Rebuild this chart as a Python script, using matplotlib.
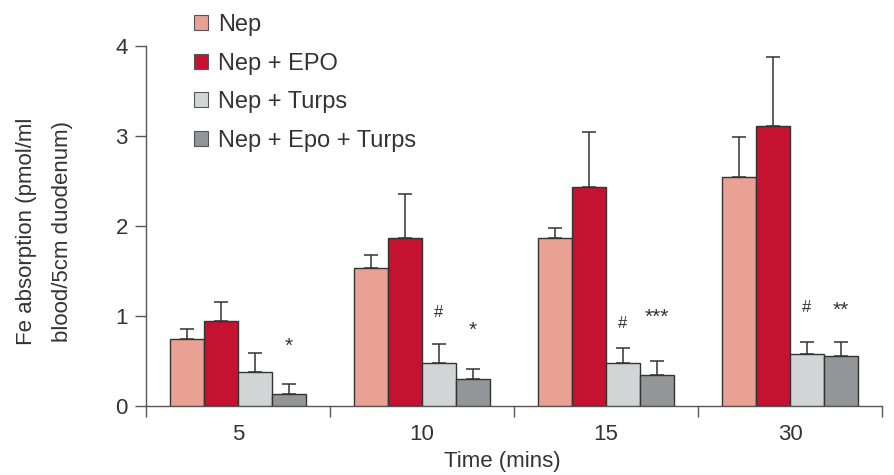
import matplotlib.pyplot as plt
import numpy as np
from matplotlib.patches import Rectangle

plt.rcParams['font.family'] = ['Liberation Sans', 'DejaVu Sans']

times = ["5", "10", "15", "30"]
series = ["Nep", "Nep + EPO", "Nep + Turps", "Nep + Epo + Turps"]
colors = ["#E8A192", "#C41230", "#D3D4D6", "#939598"]

# mean values and upper error bar tips, per series (one value per time point)
means = [
    [0.75, 1.53, 1.87, 2.54],
    [0.94, 1.87, 2.43, 3.11],
    [0.38, 0.48, 0.48, 0.58],
    [0.13, 0.30, 0.35, 0.56],
]
err_tops = [
    [0.86, 1.68, 1.98, 2.99],
    [1.16, 2.36, 3.04, 3.88],
    [0.59, 0.69, 0.64, 0.71],
    [0.24, 0.41, 0.50, 0.71],
]

# significance marks: (series index, group index, text, y)
marks = [
    (3, 0, "*", 0.66),
    (2, 1, "#", 1.04),
    (3, 1, "*", 0.84),
    (2, 2, "#", 0.92),
    (3, 2, "***", 0.98),
    (2, 3, "#", 1.09),
    (3, 3, "**", 1.06),
]

text_c = "#333333"
line_c = "#555555"
fs = 16

fig = plt.figure(figsize=(8.95, 4.75), dpi=100)
ax = fig.add_axes([146/895, 1 - 406/475, 736/895, 360/475])

x = np.arange(len(times))
w = 0.184
for i, name in enumerate(series):
    pos = x + (i - 1.5) * w
    m = np.array(means[i])
    e = np.array(err_tops[i]) - m
    ax.bar(pos, m, width=w, color=colors[i], edgecolor="#333333", linewidth=1.0, zorder=3)
    ax.errorbar(pos, m, yerr=[np.zeros_like(e), e], fmt="none", ecolor="#333333",
                elinewidth=1.1, capsize=5, capthick=1.1, zorder=2)

for si, gi, txt, y in marks:
    ax.text(x[gi] + (si - 1.5) * w, y, txt, ha="center", va="center",
            fontsize=12 if txt == "#" else 15, color=text_c)

ax.set_xlim(-0.5, 3.5)
ax.set_ylim(0, 4)
ax.set_yticks([0, 1, 2, 3, 4])
ax.set_xticks(x)
ax.set_xticklabels(times)
ax.set_xticks(np.arange(-0.5, 4, 1), minor=True)
ax.tick_params(axis="x", which="major", length=0, pad=13, labelsize=fs, colors=text_c)
ax.tick_params(axis="x", which="minor", length=8, width=1.0, color=line_c, direction="out")
ax.tick_params(axis="y", length=8, width=1.0, color=line_c, pad=5, labelsize=fs, labelcolor=text_c)
for s in ["top", "right"]:
    ax.spines[s].set_visible(False)
for s in ["left", "bottom"]:
    ax.spines[s].set_color(line_c)
    ax.spines[s].set_linewidth(1.0)

fig.text(27/895, 1 - 231/475, "Fe absorption (pmol/ml", rotation=90, ha="center", va="center",
         fontsize=fs, color=text_c)
fig.text(63/895, 1 - 231/475, "blood/5cm duodenum)", rotation=90, ha="center", va="center",
         fontsize=fs, color=text_c)
fig.text(502/895, 1 - 461/475, "Time (mins)", ha="center", va="center", fontsize=fs, color=text_c)

handles = [Rectangle((0, 0), 1, 1, facecolor=c, edgecolor="#555555", linewidth=0.8) for c in colors]
fig.legend(handles, series, loc="upper left", bbox_to_anchor=(173/895, 1 + 7/475), frameon=False,
           fontsize=17, handlelength=0.6, handleheight=0.6, handletextpad=0.4,
           labelspacing=0.70, labelcolor=text_c)

fig.savefig("out.png", dpi=100)
